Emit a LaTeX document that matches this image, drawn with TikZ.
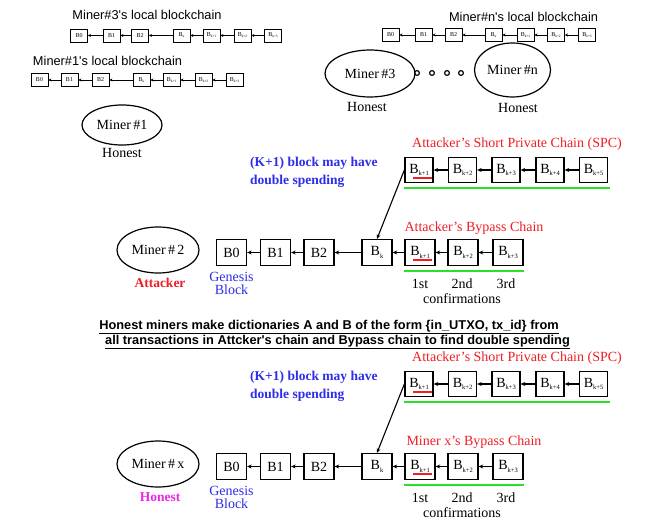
\documentclass[tikz,border=0pt]{standalone}
\usepackage{fontspec}
\setmainfont{Liberation Serif}
\newfontfamily\arialfont{Liberation Sans}
\usetikzlibrary{shapes.geometric,arrows.meta,calc}

\definecolor{chainred}{RGB}{240,30,35}
\definecolor{noteblue}{RGB}{45,45,235}
\definecolor{okgreen}{RGB}{40,225,40}
\definecolor{honestpink}{RGB}{235,40,235}

% block labels with a small lowered index
\newcommand{\bsub}[1]{B\raisebox{-2.5pt}{\fontsize{6.5}{7}\selectfont #1}}
\newcommand{\tsub}[1]{B\raisebox{-1pt}{\fontsize{3.5}{4}\selectfont #1}}

\tikzset{
  tblk/.style={draw, line width=0.9pt, minimum width=17pt, minimum height=13pt,
    inner sep=0pt, font=\fontsize{6}{6}\selectfont},
  blk/.style={draw, line width=1.3pt, minimum width=30pt, minimum height=26pt,
    inner sep=0pt, font=\fontsize{14}{14}\selectfont},
  sblk/.style={blk, minimum width=28pt, minimum height=25pt},
  tarr/.style={-{Stealth[length=3pt,width=3pt]}, line width=0.7pt},
  barr/.style={-{Stealth[length=4.5pt,width=4pt]}, line width=1.1pt},
  miner/.style={draw, ellipse, line width=1.2pt, inner sep=0pt,
    font=\fontsize{14}{16}\selectfont},
  lbl/.style={inner sep=0pt, font=\fontsize{14}{16}\selectfont},
  blbl/.style={inner sep=0pt, font=\bfseries\fontsize{13.5}{16}\selectfont},
  toplbl/.style={inner sep=0pt, font=\arialfont\fontsize{12.8}{14}\selectfont},
  bandtxt/.style={inner sep=0pt, anchor=base,
    font=\arialfont\bfseries\fontsize{12.8}{14}\selectfont},
  greenbar/.style={okgreen, line width=2.2pt},
  redmark/.style={chainred, line width=2pt},
}

% one attack scenario: SPC, the miner's chain and its bypass chain
% #1 name prefix, #2 vertical shift, #3 miner, #4 role, #5 role colour, #6 bypass title
\newcommand{\attackpanel}[6]{%
\begin{scope}[yshift=#2]
  \node[lbl, chainred] (#1spc) at (517,144.5) {Attacker's Short Private Chain (SPC)};
  \foreach \x/\t [count=\i] in {419/1,462.5/2,506/3,550/4,593.5/5}
    \node[sblk] (#1s\i) at (\x,170) {\bsub{k+\t}};
  \foreach \i [evaluate=\i as \j using int(\i-1)] in {2,...,5}
    \draw[barr] (#1s\i) -- (#1s\j);
  \draw[greenbar] ($(#1s1.south west)+(0,5)$) -- ($(#1s5.south east)+(2,5)$);
  \draw[redmark] (413,178) -- (432,178);
  \node[blbl, noteblue, align=left, anchor=west,
    font=\bfseries\fontsize{13.5}{18}\selectfont] (#1note) at (250,172)
    {(K+1) block may have\\double spending};

  \node[blk] (#1b0) at (231.5,252.5) {B0};
  \node[blk] (#1b1) at (275.5,252.5) {B1};
  \node[blk] (#1b2) at (319,252.5) {B2};
  \node[blk] (#1bk) at (377,252.5) {\bsub{k}};
  \node[blk] (#1k1) at (420,252.5) {\bsub{k+1}};
  \node[blk] (#1k2) at (463,252.5) {\bsub{k+2}};
  \node[blk] (#1k3) at (508,252.5) {\bsub{k+3}};
  \draw[barr] (#1b1) -- (#1b0);
  \draw[barr] (#1b2) -- (#1b1);
  \draw[barr] (#1bk) -- (#1b2);
  \draw[barr] (#1k1) -- (#1bk);
  \draw[barr] (#1k2) -- (#1k1);
  \draw[barr] (#1k3) -- (#1k2);
  \draw[barr] (#1s1.west) -- (#1bk.north);
  \draw[greenbar] ($(#1k1.south west)+(0,4.5)$) -- ($(#1k3.south east)+(0,4.5)$);
  \draw[redmark] (413,260) -- (432,260);

  \node[miner, minimum width=82pt, minimum height=46pt] (#1m) at (158,250) {#3};
  \node[blbl, #5] (#1role) at (160,283) {#4};
  \node[lbl, noteblue, align=center, font=\fontsize{14}{13}\selectfont]
    (#1gen) at (231.5,283) {Genesis\\Block};
  \node[lbl, chainred] (#1bp) at (474,228) {#6};
  \node[lbl] (#1c1) at (420,284) {1st};
  \node[lbl] (#1c2) at (462,284) {2nd};
  \node[lbl] (#1c3) at (506,284) {3rd};
  \node[lbl] (#1cf) at (462,299) {confirmations};
\end{scope}}

\begin{document}
\begin{tikzpicture}[x=1pt,y=-1pt]
  \useasboundingbox (0,0) rectangle (655,521);
  \fill[white] (0,0) rectangle (655,521);

  % local blockchains of the honest miners
  \node[toplbl] (l3) at (147,15) {Miner\#3's local blockchain};
  \foreach \x/\t [count=\i from 0] in {79/B0,111.5/B1,140/B2,181.5/{\tsub{k}},
      211.5/{\tsub{k+1}},242.5/{\tsub{k+2}},273/{\tsub{k+3}}}
    \node[tblk] (a\i) at (\x,35.5) {\t};
  \foreach \i [evaluate=\i as \j using int(\i-1)] in {1,...,6}
    \draw[tarr] (a\i) -- (a\j);

  \node[toplbl] (l1) at (107.5,61) {Miner\#1's local blockchain};
  \foreach \x/\t [count=\i from 0] in {39.5/B0,69.5/B1,100.5/B2,141.5/{\tsub{k}},
      171.5/{\tsub{k+1}},203.5/{\tsub{k+2}},234.5/{\tsub{k+3}}}
    \node[tblk] (b\i) at (\x,80) {\t};
  \foreach \i [evaluate=\i as \j using int(\i-1)] in {1,...,6}
    \draw[tarr] (b\i) -- (b\j);

  \node[toplbl] (ln) at (523.5,17) {Miner\#n's local blockchain};
  \foreach \x/\t [count=\i from 0] in {390.5/B0,423.5/B1,453.5/B2,493.5/{\tsub{k}},
      525.5/{\tsub{k+1}},556/{\tsub{k+2}},587/{\tsub{k+3}}}
    \node[tblk] (c\i) at (\x,35) {\t};
  \foreach \i [evaluate=\i as \j using int(\i-1)] in {1,...,6}
    \draw[tarr] (c\i) -- (c\j);

  % honest miners
  \node[miner, minimum width=80pt, minimum height=40pt] (m1) at (122,125) {Miner\,\#1};
  \node[lbl] (h1) at (122,153) {Honest};
  \node[miner, minimum width=90pt, minimum height=47pt] (m3) at (370,73.5) {Miner\,\#3};
  \node[lbl] (h3) at (367,107) {Honest};
  \node[miner, minimum width=76pt, minimum height=54pt] (mn) at (512.5,70) {Miner\,\#n};
  \node[lbl] (hn) at (518,108) {Honest};
  \foreach \x in {417,432,447,461}
    \draw[line width=1.2pt] (\x,73) circle (2.4pt);

  % attacker scenario and honest miner's check
  \attackpanel{p}{0pt}{Miner\,\#\,2}{Attacker}{chainred}{Attacker's Bypass Chain}

  \node[bandtxt] (t1) at (329,329)
    {\underline{Honest miners make dictionaries A and B of the form \{in\_UTXO, tx\_id\} from}};
  \node[bandtxt] (t2) at (337.5,344.5)
    {\underline{all transactions in Attcker's chain and Bypass chain to find double spending}};

  \attackpanel{q}{-214pt}{Miner\,\#\,x}{Honest}{honestpink}{Miner x's Bypass Chain}
\end{tikzpicture}
\end{document}
